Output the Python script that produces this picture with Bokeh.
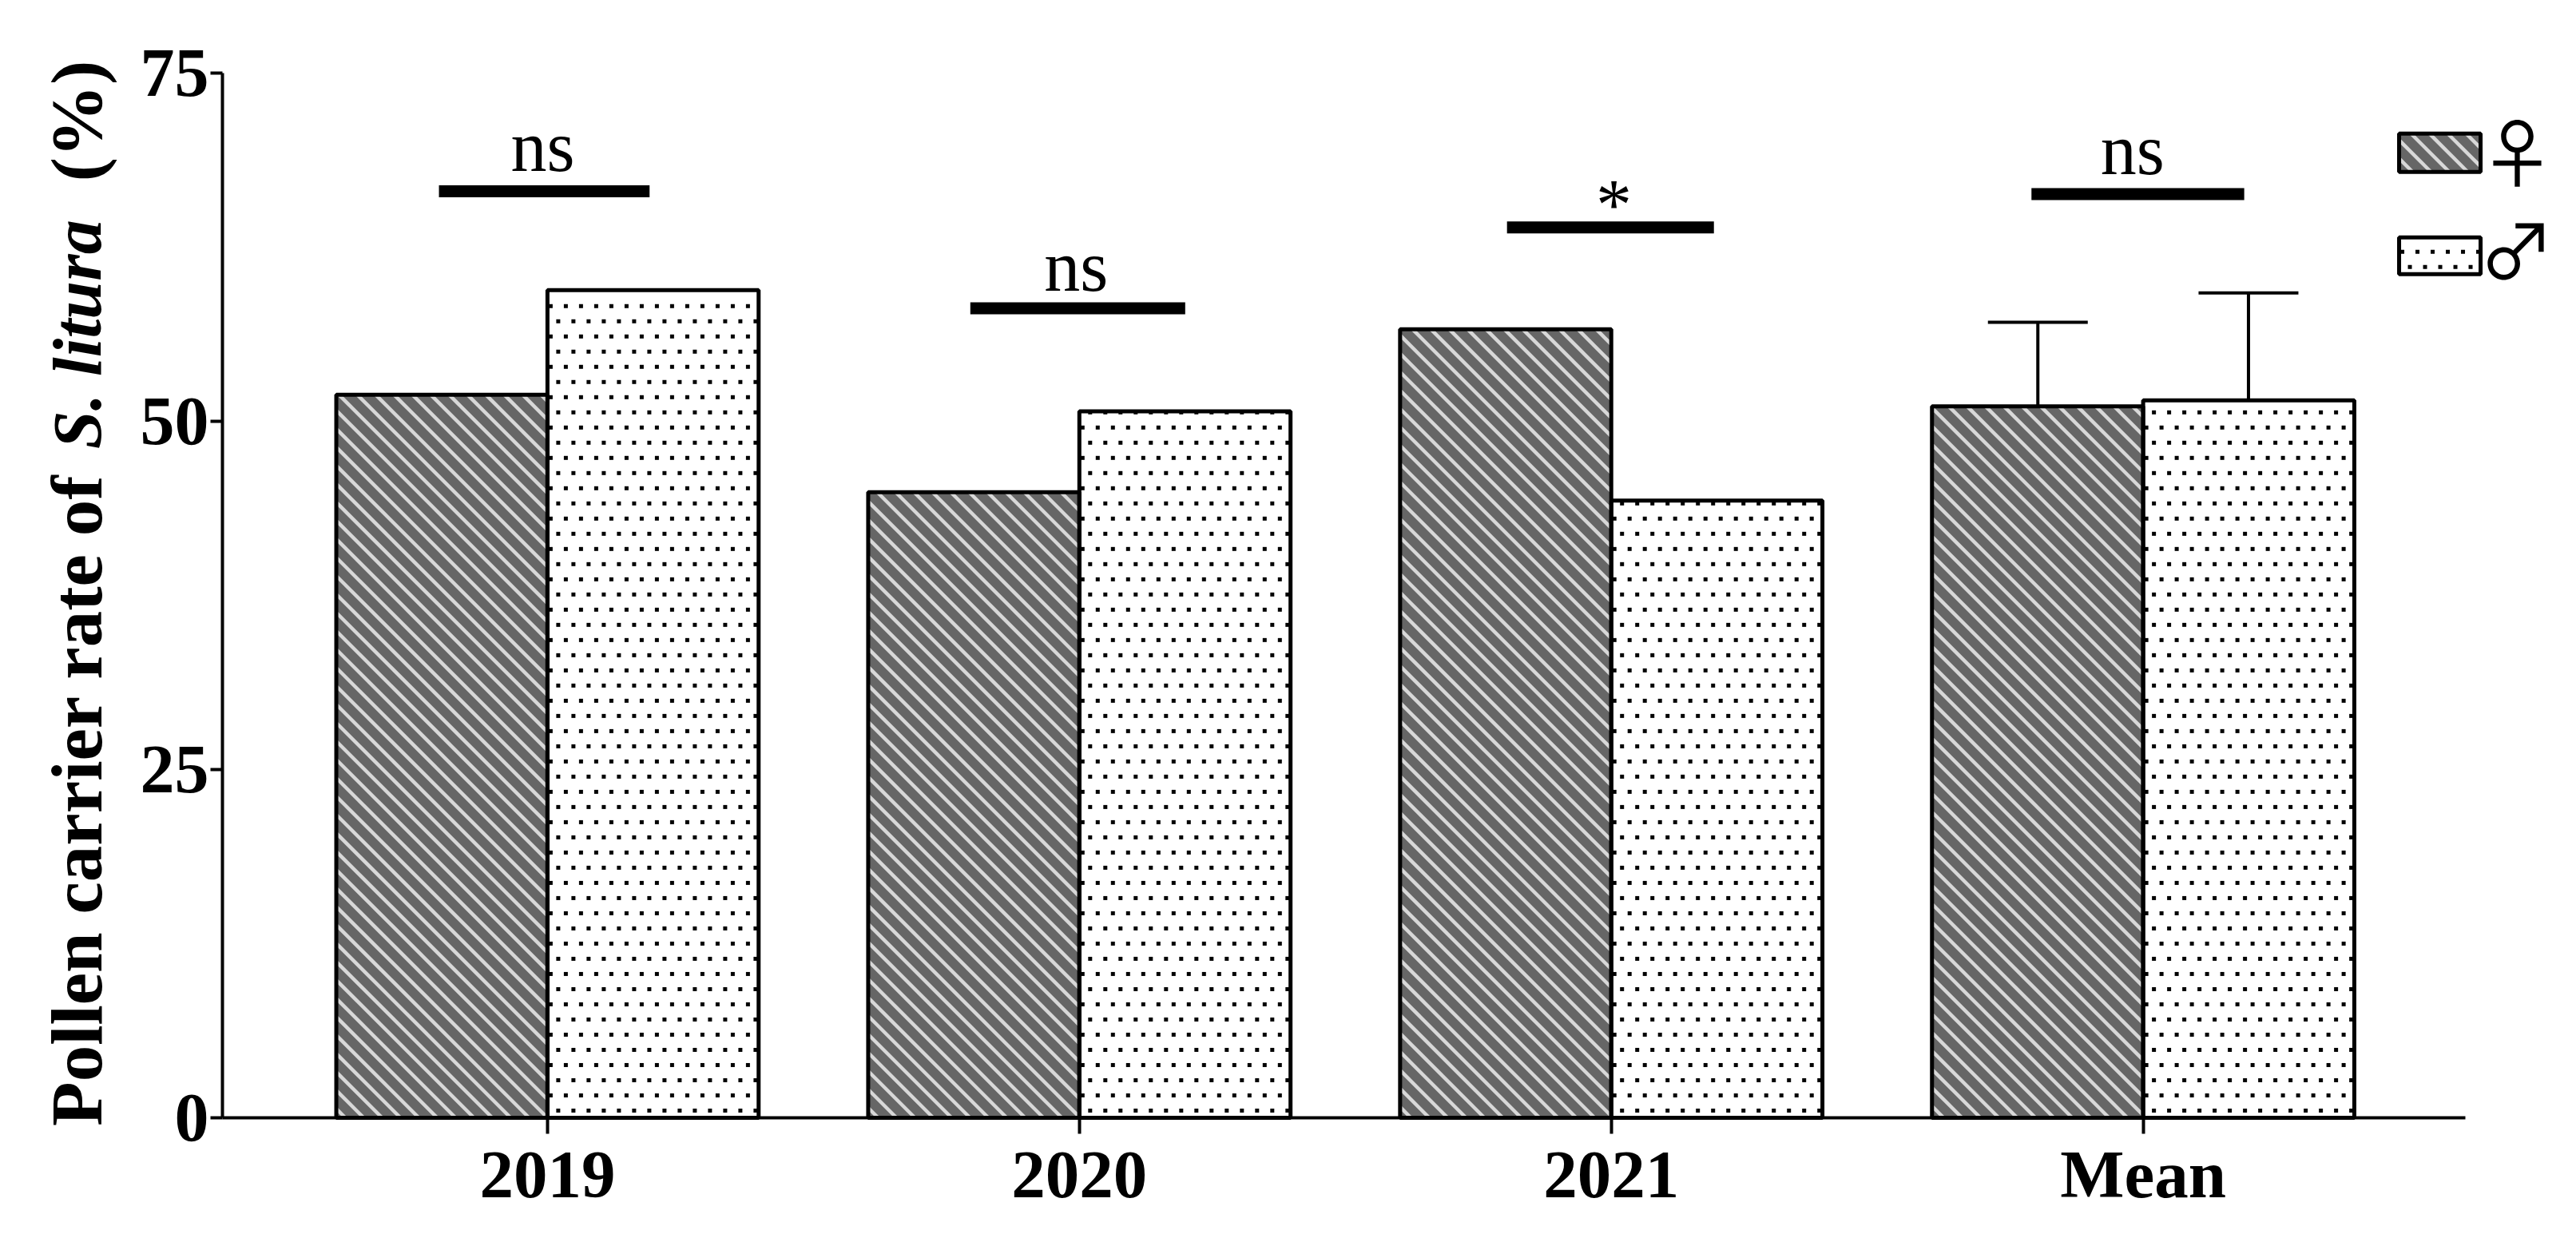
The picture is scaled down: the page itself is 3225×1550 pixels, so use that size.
from bokeh.plotting import figure
from bokeh.models import ColumnDataSource, FixedTicker, Range1d, TeeHead, Whisker
from bokeh.core.properties import value
from bokeh.embed import file_html
from bokeh.resources import INLINE

categories = ["2019", "2020", "2021", "Mean"]
group_pos = [0, 1, 2, 3]
female = [51.9, 44.9, 56.6, 51.06]
male = [59.4, 50.7, 44.3, 51.5]
err_x_f = [3 - 0.198]
err_x_m = [3 + 0.198]
err_f = [57.1]
err_m = [59.2]
err_base_f = [51.06]
err_base_m = [51.5]
sig_labels = ["ns", "ns", "*", "ns"]
sig_label_x = [-0.009, 0.994, 2.005, 2.98]
sig_label_y = [69.7, 61.1, 65.5, 69.5]
sig_y = [66.5, 58.1, 63.9, 66.3]
sig_left = [-0.204, 0.795, 1.804, 2.79]
sig_right = [0.192, 1.199, 2.193, 3.19]
y_ticks = [0, 25, 50, 75]
legend_labels = ["♀", "♂"]
title_runs = ["Pollen carrier rate of", "S. litura", "(%)"]
title_styles = ["bold", "bold italic", "bold"]
title_starts = [-0.6, 48.0, 67.2]
title_sizes = ["91px", "86px", "91px"]

FONT = "Liberation Serif"
BAR_W = 0.397
SX, SY = 665.9, 17.44          # pixels per data unit
X0, X1 = -1.0285, 3.807
Y0, Y1 = -146 / 17.44, 80.2


def stripe_segments(l, r, b, t, step=23):
    """45-degree stripe texture clipped to a box given in data units."""
    L, R, B, T = l * SX, r * SX, b * SY, t * SY
    xs0, ys0, xs1, ys1 = [], [], [], []
    c = (int((L + B) // step) + 1) * step
    while c < R + T:
        a, e = max(L, c - T), min(R, c - B)
        if e > a:
            xs0.append(a / SX); ys0.append((c - a) / SY)
            xs1.append(e / SX); ys1.append((c - e) / SY)
        c += step
    return xs0, ys0, xs1, ys1


def dot_grid(l, r, b, t, step=19):
    """Staggered dot texture inside a box given in data units."""
    L, R, B, T = l * SX, r * SX, b * SY, t * SY
    xs, ys = [], []
    row = 0
    y = B + 9
    while y < T - 1:
        x = L + (4 if row % 2 else 13.5)
        while x < R - 2:
            xs.append(x / SX); ys.append(y / SY)
            x += step
        y += step
        row += 1
    return xs, ys


p = figure(width=3220, height=1545, output_backend="svg", toolbar_location=None,
           x_range=Range1d(X0, X1), y_range=Range1d(Y0, Y1),
           min_border_left=0, min_border_right=0, min_border_top=0, min_border_bottom=0,
           outline_line_color=None, background_fill_color="white", border_fill_color="white")
p.grid.visible = False

src = ColumnDataSource(dict(x_f=[g - BAR_W / 2 for g in group_pos], x_m=[g + BAR_W / 2 for g in group_pos],
                            female=female, male=male))

# legend boxes (drawn by hand so that they carry the same textures)
leg_l, leg_r = (3003 / SX + X0), (3105 / SX + X0)
leg_f = ((1399 - 215) / SY, (1399 - 167) / SY)
leg_m = ((1399 - 343) / SY, (1399 - 297) / SY)

p.vbar(x="x_f", top="female", width=BAR_W, source=src, fill_color="#666666", line_color=None)
p.quad(left=[leg_l], right=[leg_r], bottom=[leg_f[0]], top=[leg_f[1]], fill_color="#666666", line_color=None)

sx0, sy0, sx1, sy1 = [], [], [], []
boxes = [(g - BAR_W, g, 0, v) for g, v in zip(group_pos, female)] + [(leg_l, leg_r, leg_f[0], leg_f[1])]
for box in boxes:
    a, b, c, d = stripe_segments(*box)
    sx0 += a; sy0 += b; sx1 += c; sy1 += d
p.segment(x0=sx0, y0=sy0, x1=sx1, y1=sy1, line_color="#d8d8d8", line_width=4.5, line_cap="butt")

dx, dy = [], []
boxes = [(g, g + BAR_W, 0, v) for g, v in zip(group_pos, male)] + [(leg_l, leg_r, leg_m[0], leg_m[1])]
for box in boxes:
    a, b = dot_grid(*box)
    dx += a; dy += b
p.scatter(x=dx, y=dy, marker="square", size=5, fill_color="black", line_color=None)

p.vbar(x="x_f", top="female", width=BAR_W, source=src, fill_color=None, line_color="black", line_width=5)
p.vbar(x="x_m", top="male", width=BAR_W, source=src, fill_color=None, line_color="black", line_width=5)
p.quad(left=[leg_l, leg_l], right=[leg_r, leg_r], bottom=[leg_f[0], leg_m[0]], top=[leg_f[1], leg_m[1]],
       fill_color=None, line_color="black", line_width=5)

p.text(x=[3151 / SX + X0, 3150 / SX + X0], y=[(1399 - 187) / SY, (1399 - 309) / SY], text=legend_labels,
       text_font=value("Noto Sans CJK SC"), text_font_size="94px", text_align="center",
       text_baseline="middle", text_color="black")

for xs, tops, bases in ((err_x_f, err_f, err_base_f), (err_x_m, err_m, err_base_m)):
    es = ColumnDataSource(dict(x=xs, up=tops, lo=bases))
    p.add_layout(Whisker(source=es, base="x", upper="up", lower="lo", line_color="black", line_width=4,
                         upper_head=TeeHead(size=125, line_color="black", line_width=4),
                         lower_head=None))

p.segment(x0=sig_left, x1=sig_right, y0=sig_y, y1=sig_y, line_color="black", line_width=15, line_cap="butt")
p.text(x=sig_label_x, y=sig_label_y, text=sig_labels, text_font=value(FONT), text_font_size="90px",
       text_align="center", text_baseline="alphabetic", text_color="black")

# y title, in three runs because part of it is italic
ylab_x = X0 + 96 / SX
for txt, y0, style, size in zip(title_runs, title_starts, title_styles, title_sizes):
    p.text(x=[ylab_x], y=[y0], text=[txt], angle=90, angle_units="deg",
           text_font=value(FONT), text_font_style=style, text_font_size=size,
           text_align="left", text_baseline="middle", text_color="black")

# axes
ax = p.xaxis[0]
ax.fixed_location = 0
ax.ticker = FixedTicker(ticks=group_pos)
ax.major_label_overrides = {g: c for g, c in zip(group_pos, categories)}
ax.bounds = (-0.611, 3.606)
ax.axis_line_width = 4
ax.major_tick_line_width = 4
ax.major_tick_out = 20
ax.major_tick_in = 0
ax.minor_tick_line_color = None
ax.major_label_standoff = 4
ax.major_label_text_font = FONT
ax.major_label_text_font_style = "bold"
ax.major_label_text_font_size = "85px"
ax.major_label_text_color = "black"

ay = p.yaxis[0]
ay.fixed_location = -0.611
ay.ticker = FixedTicker(ticks=y_ticks)
ay.bounds = (0, 75)
ay.axis_line_width = 4
ay.major_tick_line_width = 4
ay.major_tick_out = 15
ay.major_tick_in = 0
ay.minor_tick_line_color = None
ay.major_label_standoff = 2
ay.major_label_text_font = FONT
ay.major_label_text_font_style = "bold"
ay.major_label_text_font_size = "86px"
ay.major_label_text_color = "black"

open("out.html", "w").write(file_html(p, INLINE))
